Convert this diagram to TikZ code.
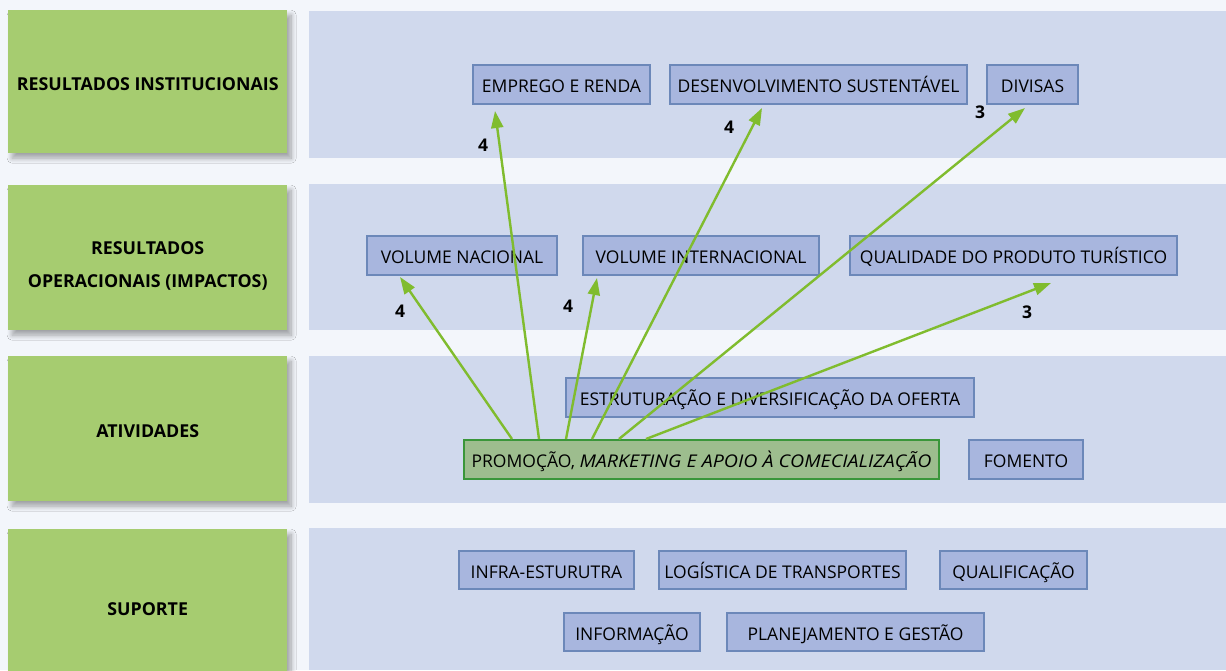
\documentclass[tikz,border=0pt]{standalone}
\usepackage{fontspec}
\setmainfont{Open Sans}[ItalicFeatures={FakeStretch=1.12}]
\usetikzlibrary{arrows.meta,shadows.blur,positioning}

\definecolor{pagebg}{RGB}{243,246,251}
\definecolor{bandblue}{RGB}{208,217,237}
\definecolor{levelgreen}{RGB}{166,204,112}
\definecolor{itemfill}{RGB}{168,182,222}
\definecolor{itemline}{RGB}{108,136,185}
\definecolor{promofill}{RGB}{157,189,142}
\definecolor{promoline}{RGB}{58,150,58}
\definecolor{linkgreen}{RGB}{128,188,46}

\tikzset{
  level/.style={fill=levelgreen, minimum width=279pt, minimum height=#1, anchor=north west,
    inner sep=0pt, blur shadow={shadow xshift=4pt, shadow yshift=-5pt, shadow blur radius=5pt,
    shadow blur steps=12, shadow opacity=35}},
  leveltext/.style={align=center, inner sep=0pt, font=\bfseries\fontsize{17.8}{33}\selectfont},
  band/.style={fill=bandblue},
  item/.style={draw=itemline, line width=2pt, fill=itemfill, anchor=north west,
    minimum height=39pt, minimum width=#1, inner sep=0pt, text height=16pt, text depth=0pt,
    font=\fontsize{17.5}{20}\selectfont},
  promobox/.style={item=#1, draw=promoline, fill=promofill},
  link/.style={draw=linkgreen, line width=2.4pt, -{Triangle[length=17pt,width=12pt]}},
  weight/.style={font=\bfseries\fontsize{17.5}{20}\selectfont}
}

\begin{document}
\begin{tikzpicture}[x=1pt,y=-1pt]
	\useasboundingbox (0,0) rectangle (1226,670);
	\fill[pagebg] (0,0) rectangle (1226,670);

	% faixas
	\fill[band] (309,11) rectangle (1226,158);
	\fill[band] (309,184) rectangle (1226,330);
	\fill[band] (309,356) rectangle (1226,503);
	\fill[band] (309,528) rectangle (1226,670);

	% niveis
	\node[level=143pt, label={[leveltext, yshift=-2.5pt]center:RESULTADOS INSTITUCIONAIS}] (inst) at (8,10) {};
	\node[level=145pt, label={[leveltext, yshift=-8pt]center:RESULTADOS\\OPERACIONAIS (IMPACTOS)}] (oper) at (8,185) {};
	\node[level=145pt, label={[leveltext, yshift=-2.5pt]center:ATIVIDADES}] (ativ) at (8,356) {};
	\node[level=160pt, label={[leveltext]center:SUPORTE}] (supor) at (8,529) {};

	% resultados institucionais
	\node[item=177pt] (emprego) at (472,64) {EMPREGO E RENDA};
	\node[item=297pt] (desenv) at (669,64) {DESENVOLVIMENTO SUSTENTÁVEL};
	\node[item=91pt] (divisas) at (986,64) {DIVISAS};

	% resultados operacionais
	\node[item=190pt] (volnac) at (366,235) {VOLUME NACIONAL};
	\node[item=236pt] (volint) at (582,235) {VOLUME INTERNACIONAL};
	\node[item=327pt] (qualid) at (849,235) {QUALIDADE DO PRODUTO TURÍSTICO};

	% atividades
	\node[item=408pt] (estrut) at (565,377) {ESTRUTURAÇÃO E DIVERSIFICAÇÃO DA OFERTA};
	\node[promobox=475pt] (promo) at (463,439) {PROMOÇÃO, \textit{MARKETING E APOIO À COMECIALIZAÇÃO}};
	\node[item=114pt] (fomento) at (968,439) {FOMENTO};

	% suporte
	\node[item=175pt, minimum height=38pt] (infra) at (458,550) {INFRA-ESTURUTRA};
	\node[item=247pt, minimum height=38pt] (logist) at (658,550) {LOGÍSTICA DE TRANSPORTES};
	\node[item=147pt, minimum height=38pt] (qualif) at (939,550) {QUALIFICAÇÃO};
	\node[item=136pt, minimum height=38pt] (inform) at (563,612) {INFORMAÇÃO};
	\node[item=257pt, minimum height=38pt] (planej) at (726,612) {PLANEJAMENTO E GESTÃO};

	% impactos
	\draw[link] ([xshift=49pt]promo.north west) -- ([shift={(34,1)}]volnac.south west);
	\draw[link] ([xshift=76pt]promo.north west) -- ([shift={(23,6)}]emprego.south west);
	\draw[link] ([xshift=103pt]promo.north west) -- ([shift={(15,2)}]volint.south west);
	\draw[link] ([xshift=129pt]promo.north west) -- ([shift={(93,3)}]desenv.south west);
	\draw[link] ([xshift=156pt]promo.north west) -- ([shift={(39,3)}]divisas.south west);
	\draw[link] ([xshift=183pt]promo.north west) -- ([shift={(202,7)}]qualid.south west);

	\node[weight] (w1) at (400,311) {4};
	\node[weight] (w2) at (483,145) {4};
	\node[weight] (w3) at (568,306) {4};
	\node[weight] (w4) at (729,127) {4};
	\node[weight] (w5) at (980,112) {3};
	\node[weight] (w6) at (1027,312) {3};
\end{tikzpicture}
\end{document}
